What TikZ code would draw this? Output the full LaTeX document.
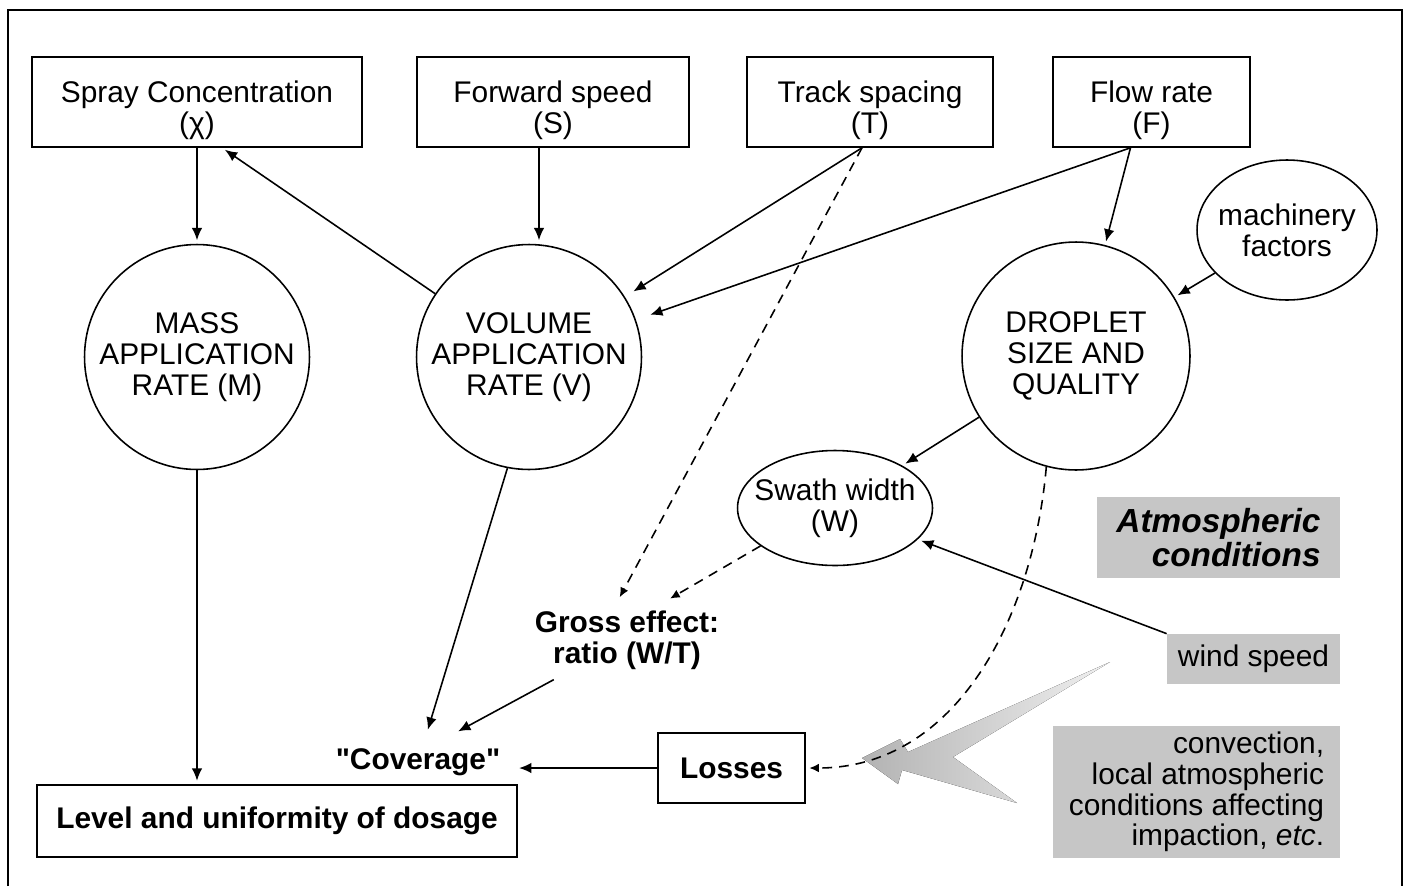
\documentclass[tikz,border=0pt]{standalone}
\usepackage{fontspec}
\setmainfont{Liberation Sans}[Ligatures=TeXOff]
\usetikzlibrary{shapes, arrows, arrows.meta}
\newcommand{\topgap}{\rule{0pt}{22pt}}
\tikzstyle{param} = [rectangle, minimum height=1.8cm, text centered, draw=black, line width=0.9pt, align=center]
\tikzstyle{rate} = [circle, minimum size=4.5cm, inner sep=0pt, draw=black, line width=0.9pt, align=center]
\tikzstyle{factor} = [ellipse, inner ysep=0pt, draw=black, line width=0.9pt, align=center]
\tikzstyle{atmos} = [rectangle, fill=gray!45, align=right, inner xsep=0.1cm]
\tikzstyle{effect} = [align=center, font=\fontsize{17}{17.5}\selectfont\bfseries]
\tikzstyle{result} = [rectangle, draw=black, line width=0.9pt, font=\fontsize{17}{17.5}\selectfont\bfseries]
\tikzstyle{arrow} = [line width=0.9pt, -{Latex[length=7pt, width=6pt]}, shorten >=2pt]
\tikzstyle{dasharrow} = [line width=0.9pt, -{Latex[length=5.5pt, width=5pt]}, shorten >=2pt, dash pattern=on 5.5pt off 4pt]
\begin{document}
\begin{tikzpicture}[x=0.02cm, y=-0.02cm, font=\fontsize{17}{17.5}\selectfont]
    \useasboundingbox (0,0) rectangle (1405,886);
    \draw [line width=1.5pt] (8,886) -- (8,10) -- (1402,10) -- (1402,886);

    \node (spray) [param, minimum width=6.6cm] at (197,102) {\topgap Spray Concentration\\(χ)};
    \node (fwd) [param, minimum width=5.44cm] at (553,102) {\topgap Forward speed\\(S)};
    \node (trk) [param, minimum width=4.92cm] at (870,102) {\topgap Track spacing\\(T)};
    \node (flow) [param, minimum width=3.94cm] at (1151.5,102) {\topgap Flow rate\\(F)};
    \node (mach) [factor, minimum width=3.6cm, minimum height=2.8cm, inner xsep=-0.2cm] at (1287,230) {machinery\\factors};
    \node (mass) [rate] at (197,357) {MASS\\APPLICATION\\RATE (M)};
    \node (vol) [rate] at (529,357) {VOLUME\\APPLICATION\\RATE (V)};
    \node (drop) [rate, minimum size=4.56cm] at (1076,356) {DROPLET\\SIZE AND\\QUALITY};
    \node (swath) [factor, minimum width=3.9cm, minimum height=2.3cm, inner xsep=-0.3cm] at (835,508) {Swath width\\(W)};
    \node (atm) [atmos, minimum width=4.86cm, minimum height=1.62cm, font=\fontsize{19}{19}\selectfont\bfseries\itshape] at (1218.5,537.5) {Atmospheric\\conditions};
    \node (wind) [atmos, minimum width=3.46cm, minimum height=1cm, align=center] at (1253.5,659) {wind speed};
    \node (conv) [atmos, minimum width=5.74cm, minimum height=2.56cm] at (1196.5,792) {convection,\\local atmospheric\\conditions affecting\\impaction, \emph{etc}.};
    \node (gross) [effect, inner sep=0.2cm] at (627,640) {Gross effect:\\ratio (W/T)};
    \node (cov) [effect, inner sep=0.3cm] at (418,762) {"Coverage"};
    \node (losses) [result, minimum width=2.94cm, minimum height=1.4cm] at (731.5,768) {Losses};
    \node (level) [result, minimum width=9.6cm, minimum height=1.44cm] at (277,821) {Level and uniformity of dosage};

    % broad grey arrow from the atmospheric factors
    \fill [left color=gray!60, right color=gray!12] (862,758) -- (900,739) -- (908,752) -- (1110,662) -- (953,757) -- (1017,803) -- (902,770) -- (898,784) -- cycle;

    \draw [arrow] (spray) -- (mass);
    \draw [arrow] (vol.146) -- ([xshift=0.5cm]spray.south);
    \draw [arrow] ([xshift=-0.28cm]fwd.south) -- ([xshift=0.2cm]vol.north);
    \draw [arrow, shorten >=0.2cm] ([xshift=-0.16cm]trk.south) -- (vol);
    \draw [arrow, shorten >=0.3cm] ([xshift=-0.42cm]flow.south) -- (vol);
    \draw [arrow] ([xshift=-0.42cm]flow.south) -- (drop);
    \draw [arrow] (mach) -- (drop);
    \draw [arrow] (drop) -- (swath);
    \draw [arrow] (wind.north west) -- (swath);
    \draw [dasharrow] ([xshift=-0.16cm]trk.south) -- ([xshift=-0.18cm]gross.north);
    \draw [dasharrow] (swath.207) -- ([xshift=0.8cm]gross.north);
    \draw [arrow] (vol.259) -- (cov);
    \draw [arrow] (gross) -- ([xshift=0.74cm]cov.north);
    \draw [arrow] (mass) -- (mass |- level.north);
    \draw [arrow] (losses) -- (losses -| cov.east);
    \draw [dasharrow] (drop.255) to[out=-95, in=0] (losses.east);
\end{tikzpicture}
\end{document}
